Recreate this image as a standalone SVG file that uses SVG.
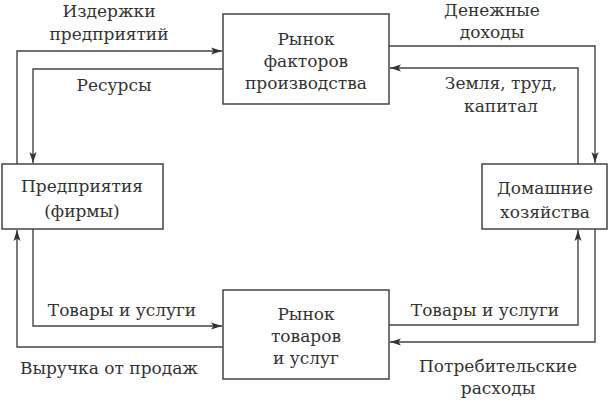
<svg xmlns="http://www.w3.org/2000/svg" width="612" height="409" viewBox="0 0 612 409">
<defs>
<style>
.box{fill:#fff;stroke:#444;stroke-width:1.5}
.ln{fill:none;stroke:#444;stroke-width:1.4;marker-end:url(#ah)}
text{font-family:"DejaVu Serif","Liberation Serif",serif;font-size:17px;fill:#333;text-anchor:middle}
</style>
<marker id="ah" markerWidth="12" markerHeight="8" refX="11" refY="4" orient="auto" markerUnits="userSpaceOnUse">
<path d="M0,0.5 L11,4 L0,7.5 L2.5,4 z" fill="#333"/>
</marker>
</defs>
<rect width="612" height="409" fill="#fff"/>
<g id="connectors">
<path class="ln" d="M17,164 V51 H222"/>
<path class="ln" d="M223,69 H33 V163"/>
<path class="ln" d="M389,46 H595 V163"/>
<path class="ln" d="M578,164 V68 H390"/>
<path class="ln" d="M33,229 V326 H222"/>
<path class="ln" d="M223,347 H17 V230"/>
<path class="ln" d="M389,325 H578 V230"/>
<path class="ln" d="M595,229 V342 H390"/>
</g>
<g id="labels">
<text x="109" y="17">Издержки</text>
<text x="109" y="40">предприятий</text>
<text x="114" y="91">Ресурсы</text>
<text x="492" y="16">Денежные</text>
<text x="492" y="38">доходы</text>
<text x="501" y="89">Земля, труд,</text>
<text x="501" y="112">капитал</text>
<text x="122" y="316">Товары и услуги</text>
<text x="109" y="374">Выручка от продаж</text>
<text x="485" y="316">Товары и услуги</text>
<text x="498" y="372">Потребительские</text>
<text x="498" y="394">расходы</text>
</g>
<g id="factor-market">
<rect class="box" x="223" y="14" width="166" height="90"/>
<text x="306" y="45">Рынок</text>
<text x="306" y="67">факторов</text>
<text x="306" y="89">производства</text>
</g>
<g id="firms">
<rect class="box" x="2" y="164" width="161" height="65"/>
<text x="82" y="192">Предприятия</text>
<text x="82" y="217">(фирмы)</text>
</g>
<g id="households">
<rect class="box" x="482" y="164" width="125" height="65"/>
<text x="545" y="194">Домашние</text>
<text x="545" y="218">хозяйства</text>
</g>
<g id="goods-market">
<rect class="box" x="223" y="290" width="166" height="89"/>
<text x="306" y="320">Рынок</text>
<text x="306" y="342">товаров</text>
<text x="306" y="364">и услуг</text>
</g>
</svg>
